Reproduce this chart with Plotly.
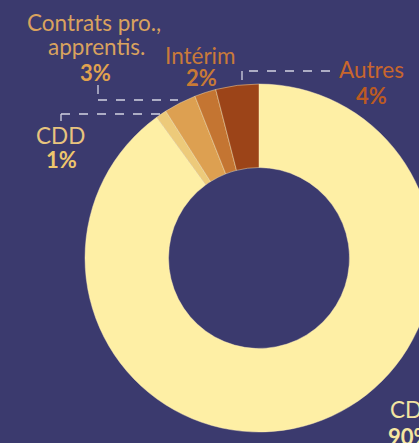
import plotly.graph_objects as go

categories = ["CDI", "CDD", "Contrats pro., apprentis.", "Intérim", "Autres"]
values = [90, 1, 3, 2, 4]
label_lines = [["CDI"], ["CDD"], ["Contrats pro.,", "apprentis."], ["Intérim"], ["Autres"]]
slice_colors = ["#FEEFA5", "#EDCA7A", "#DDA051", "#C47532", "#9C4418"]
name_colors = ["#F2E4A2", "#E8C47E", "#D9A25E", "#C97A3A", "#C9662C"]
pct_colors = ["#F6E7A0", "#EEC66C", "#E0A24E", "#C87A36", "#BC5A22"]

BG = "#3B3A6E"
W, H = 434, 443


def X(px):
    return px / W


def Y(py):
    return 1 - py / H


cx, cy, R = 259, 258, 174

fig = go.Figure(
    go.Pie(
        labels=categories,
        values=values,
        hole=0.52,
        sort=False,
        direction="clockwise",
        rotation=0,
        textinfo="none",
        hoverinfo="label+percent",
        marker=dict(colors=slice_colors, line=dict(color="rgba(255,240,190,0.55)", width=0.8)),
        domain=dict(x=[X(cx - R), X(cx + R)], y=[Y(cy + R), Y(cy - R)]),
        showlegend=False,
    )
)

FONT = "Lato"
# centers (px) of each name line, and of the percentage
name_pos = [[(409, 409)], [(60, 135.5)], [(94, 22), (96, 46.5)], [(200, 55)], [(371, 70)]]
pct_pos = [(410, 436), (61, 160), (95, 72.5), (201, 77.5), (371, 95.5)]

annotations = []
for i, cat in enumerate(categories):
    for line, (nx, ny) in zip(label_lines[i], name_pos[i]):
        annotations.append(dict(
            x=X(nx), y=Y(ny), xref="paper", yref="paper", showarrow=False,
            text=line, xanchor="center", yanchor="middle",
            font=dict(family=FONT, size=22.5, color=name_colors[i]), align="center",
        ))
    px_, py_ = pct_pos[i]
    annotations.append(dict(
        x=X(px_), y=Y(py_), xref="paper", yref="paper", showarrow=False,
        text=f"<b>{values[i]}%</b>", xanchor="center", yanchor="middle",
        font=dict(family=FONT, size=22, color=pct_colors[i]),
    ))

# dashed leader lines (pixel paths)
leaders = [
    [(330, 71), (242, 71), (242, 81)],
    [(98, 85), (98, 100), (178, 100)],
    [(61, 121), (61, 114), (160, 114)],
]
shapes = []
for path in leaders:
    for (x0, y0), (x1, y1) in zip(path[:-1], path[1:]):
        shapes.append(dict(
            type="line", xref="paper", yref="paper",
            x0=X(x0), y0=Y(y0), x1=X(x1), y1=Y(y1),
            line=dict(color="#D4D4E2", width=1.3, dash="dash"),
        ))

fig.update_layout(
    width=W, height=H,
    margin=dict(l=0, r=0, t=0, b=0),
    paper_bgcolor=BG, plot_bgcolor=BG,
    annotations=annotations, shapes=shapes,
)

fig.write_html(
    "out.html",
    config={"displayModeBar": False},
    post_script="document.body.style.margin='0';document.body.style.overflow='hidden';document.documentElement.style.overflow='hidden';document.body.style.background='" + BG + "';",
)
